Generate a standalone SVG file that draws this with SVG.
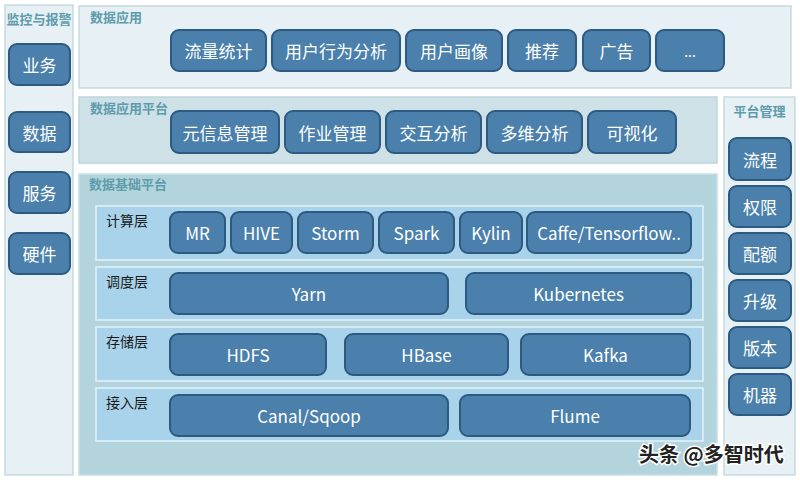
<svg xmlns="http://www.w3.org/2000/svg" width="800" height="480" viewBox="0 0 800 480">
<style>
.panel-light{fill:#e7f0f4;stroke:#c5dade;stroke-width:1.5}
.panel-mid{fill:#cde1e7;stroke:#bcd6dc;stroke-width:1.5}
.panel-base{fill:#b3d4dc;stroke:#c5dfe4;stroke-width:1.5}
.row{fill:#a9d3ea;stroke:#e4f2f8;stroke-width:1.5}
.node{fill:#4a80ab;stroke:#2c5a80;stroke-width:2}
.ntext{font-family:"Noto Sans CJK SC","Open Sans",sans-serif;font-size:17px;fill:#ffffff;text-anchor:middle;dominant-baseline:central}
.title{font-family:"Noto Sans CJK SC",sans-serif;font-size:13px;font-weight:bold;fill:#5e9cac}
.rlabel{font-family:"Noto Sans CJK SC",sans-serif;font-size:14px;fill:#1a1a1a}
.wm{font-family:"Noto Sans CJK SC",sans-serif;font-size:20px;font-weight:bold;fill:#222;stroke:#fff;stroke-width:3;paint-order:stroke}
</style>
<rect width="800" height="480" fill="#ffffff"/>

<g id="monitor">
<rect class="panel-light" x="5" y="5" width="68" height="470"/>
<text class="title" x="39" y="24" text-anchor="middle">监控与报警</text>
</g>
<g id="n-yewu"><rect class="node" x="9" y="44" width="61" height="41" rx="8"/><text class="ntext" x="39.5" y="64.5">业务</text></g>
<g id="n-shuju"><rect class="node" x="9" y="112" width="61" height="40" rx="8"/><text class="ntext" x="39.5" y="132">数据</text></g>
<g id="n-fuwu"><rect class="node" x="9" y="172" width="61" height="41" rx="8"/><text class="ntext" x="39.5" y="192.5">服务</text></g>
<g id="n-yingjian"><rect class="node" x="9" y="233" width="61" height="41" rx="8"/><text class="ntext" x="39.5" y="253.5">硬件</text></g>

<g id="app">
<rect class="panel-light" x="79" y="6" width="712" height="82"/>
<text class="title" x="90" y="22">数据应用</text>
</g>
<g id="n-liuliang"><rect class="node" x="171" y="30" width="95" height="41" rx="8"/><text class="ntext" x="218.5" y="50.5">流量统计</text></g>
<g id="n-yonghuxingwei"><rect class="node" x="272" y="30" width="128" height="41" rx="8"/><text class="ntext" x="336" y="50.5">用户行为分析</text></g>
<g id="n-huaxiang"><rect class="node" x="406" y="30" width="96" height="41" rx="8"/><text class="ntext" x="454" y="50.5">用户画像</text></g>
<g id="n-tuijian"><rect class="node" x="508" y="30" width="68" height="41" rx="8"/><text class="ntext" x="542" y="50.5">推荐</text></g>
<g id="n-guanggao"><rect class="node" x="583" y="30" width="67" height="41" rx="8"/><text class="ntext" x="616.5" y="50.5">广告</text></g>
<g id="n-more"><rect class="node" x="656" y="30" width="68" height="41" rx="8"/><text class="ntext" x="690" y="50.5" style="font-size:14px">...</text></g>

<g id="appplatform">
<rect class="panel-mid" x="79" y="97" width="638" height="66"/>
<text class="title" x="90" y="113">数据应用平台</text>
</g>
<g id="n-meta"><rect class="node" x="171" y="111" width="108" height="42" rx="8"/><text class="ntext" x="225" y="132">元信息管理</text></g>
<g id="n-job"><rect class="node" x="285" y="111" width="95" height="42" rx="8"/><text class="ntext" x="332.5" y="132">作业管理</text></g>
<g id="n-interact"><rect class="node" x="386" y="111" width="95" height="42" rx="8"/><text class="ntext" x="433.5" y="132">交互分析</text></g>
<g id="n-olap"><rect class="node" x="487" y="111" width="95" height="42" rx="8"/><text class="ntext" x="534.5" y="132">多维分析</text></g>
<g id="n-vis"><rect class="node" x="588" y="111" width="88" height="42" rx="8"/><text class="ntext" x="632" y="132">可视化</text></g>

<g id="platform-mgmt">
<rect class="panel-light" x="724" y="97" width="71" height="378"/>
<text class="title" x="759.5" y="116" text-anchor="middle">平台管理</text>
</g>
<g id="n-liucheng"><rect class="node" x="729" y="138" width="62" height="42" rx="8"/><text class="ntext" x="760" y="159">流程</text></g>
<g id="n-quanxian"><rect class="node" x="729" y="186" width="62" height="41" rx="8"/><text class="ntext" x="760" y="206.5">权限</text></g>
<g id="n-peie"><rect class="node" x="729" y="233" width="62" height="41" rx="8"/><text class="ntext" x="760" y="253.5">配额</text></g>
<g id="n-shengji"><rect class="node" x="729" y="280" width="62" height="41" rx="8"/><text class="ntext" x="760" y="300.5">升级</text></g>
<g id="n-banben"><rect class="node" x="729" y="327" width="62" height="41" rx="8"/><text class="ntext" x="760" y="347.5">版本</text></g>
<g id="n-jiqi"><rect class="node" x="729" y="374" width="62" height="41" rx="8"/><text class="ntext" x="760" y="394.5">机器</text></g>

<g id="base">
<rect class="panel-base" x="79" y="174" width="638" height="301"/>
<text class="title" x="89" y="189">数据基础平台</text>
<rect class="row" x="96" y="206" width="607" height="54"/>
<rect class="row" x="96" y="267" width="607" height="53"/>
<rect class="row" x="96" y="327" width="607" height="54"/>
<rect class="row" x="96" y="388" width="607" height="53"/>
<text class="rlabel" x="106" y="226">计算层</text>
<text class="rlabel" x="106" y="287">调度层</text>
<text class="rlabel" x="106" y="347">存储层</text>
<text class="rlabel" x="106" y="408">接入层</text>
</g>
<g id="n-mr"><rect class="node" x="170" y="212" width="55" height="41" rx="8"/><text class="ntext" x="197.5" y="232.5">MR</text></g>
<g id="n-hive"><rect class="node" x="231" y="212" width="61" height="41" rx="8"/><text class="ntext" x="261.5" y="232.5">HIVE</text></g>
<g id="n-storm"><rect class="node" x="298" y="212" width="75" height="41" rx="8"/><text class="ntext" x="335.5" y="232.5">Storm</text></g>
<g id="n-spark"><rect class="node" x="379" y="212" width="75" height="41" rx="8"/><text class="ntext" x="416.5" y="232.5">Spark</text></g>
<g id="n-kylin"><rect class="node" x="460" y="212" width="62" height="41" rx="8"/><text class="ntext" x="491" y="232.5">Kylin</text></g>
<g id="n-caffe"><rect class="node" x="527" y="212" width="164" height="41" rx="8"/><text class="ntext" x="609" y="232.5">Caffe/Tensorflow..</text></g>
<g id="n-yarn"><rect class="node" x="170" y="273" width="278" height="41" rx="8"/><text class="ntext" x="309" y="293.5">Yarn</text></g>
<g id="n-k8s"><rect class="node" x="466" y="273" width="225" height="41" rx="8"/><text class="ntext" x="578.5" y="293.5">Kubernetes</text></g>
<g id="n-hdfs"><rect class="node" x="170" y="334" width="156" height="41" rx="8"/><text class="ntext" x="248" y="354.5">HDFS</text></g>
<g id="n-hbase"><rect class="node" x="345" y="334" width="163" height="41" rx="8"/><text class="ntext" x="426.5" y="354.5">HBase</text></g>
<g id="n-kafka"><rect class="node" x="521" y="334" width="169" height="41" rx="8"/><text class="ntext" x="605.5" y="354.5">Kafka</text></g>
<g id="n-canal"><rect class="node" x="170" y="395" width="278" height="41" rx="8"/><text class="ntext" x="309" y="415.5">Canal/Sqoop</text></g>
<g id="n-flume"><rect class="node" x="460" y="395" width="230" height="41" rx="8"/><text class="ntext" x="575" y="415.5">Flume</text></g>

<g id="connectors"></g>

<text class="wm" x="639" y="462">头条 @多智时代</text>
</svg>
